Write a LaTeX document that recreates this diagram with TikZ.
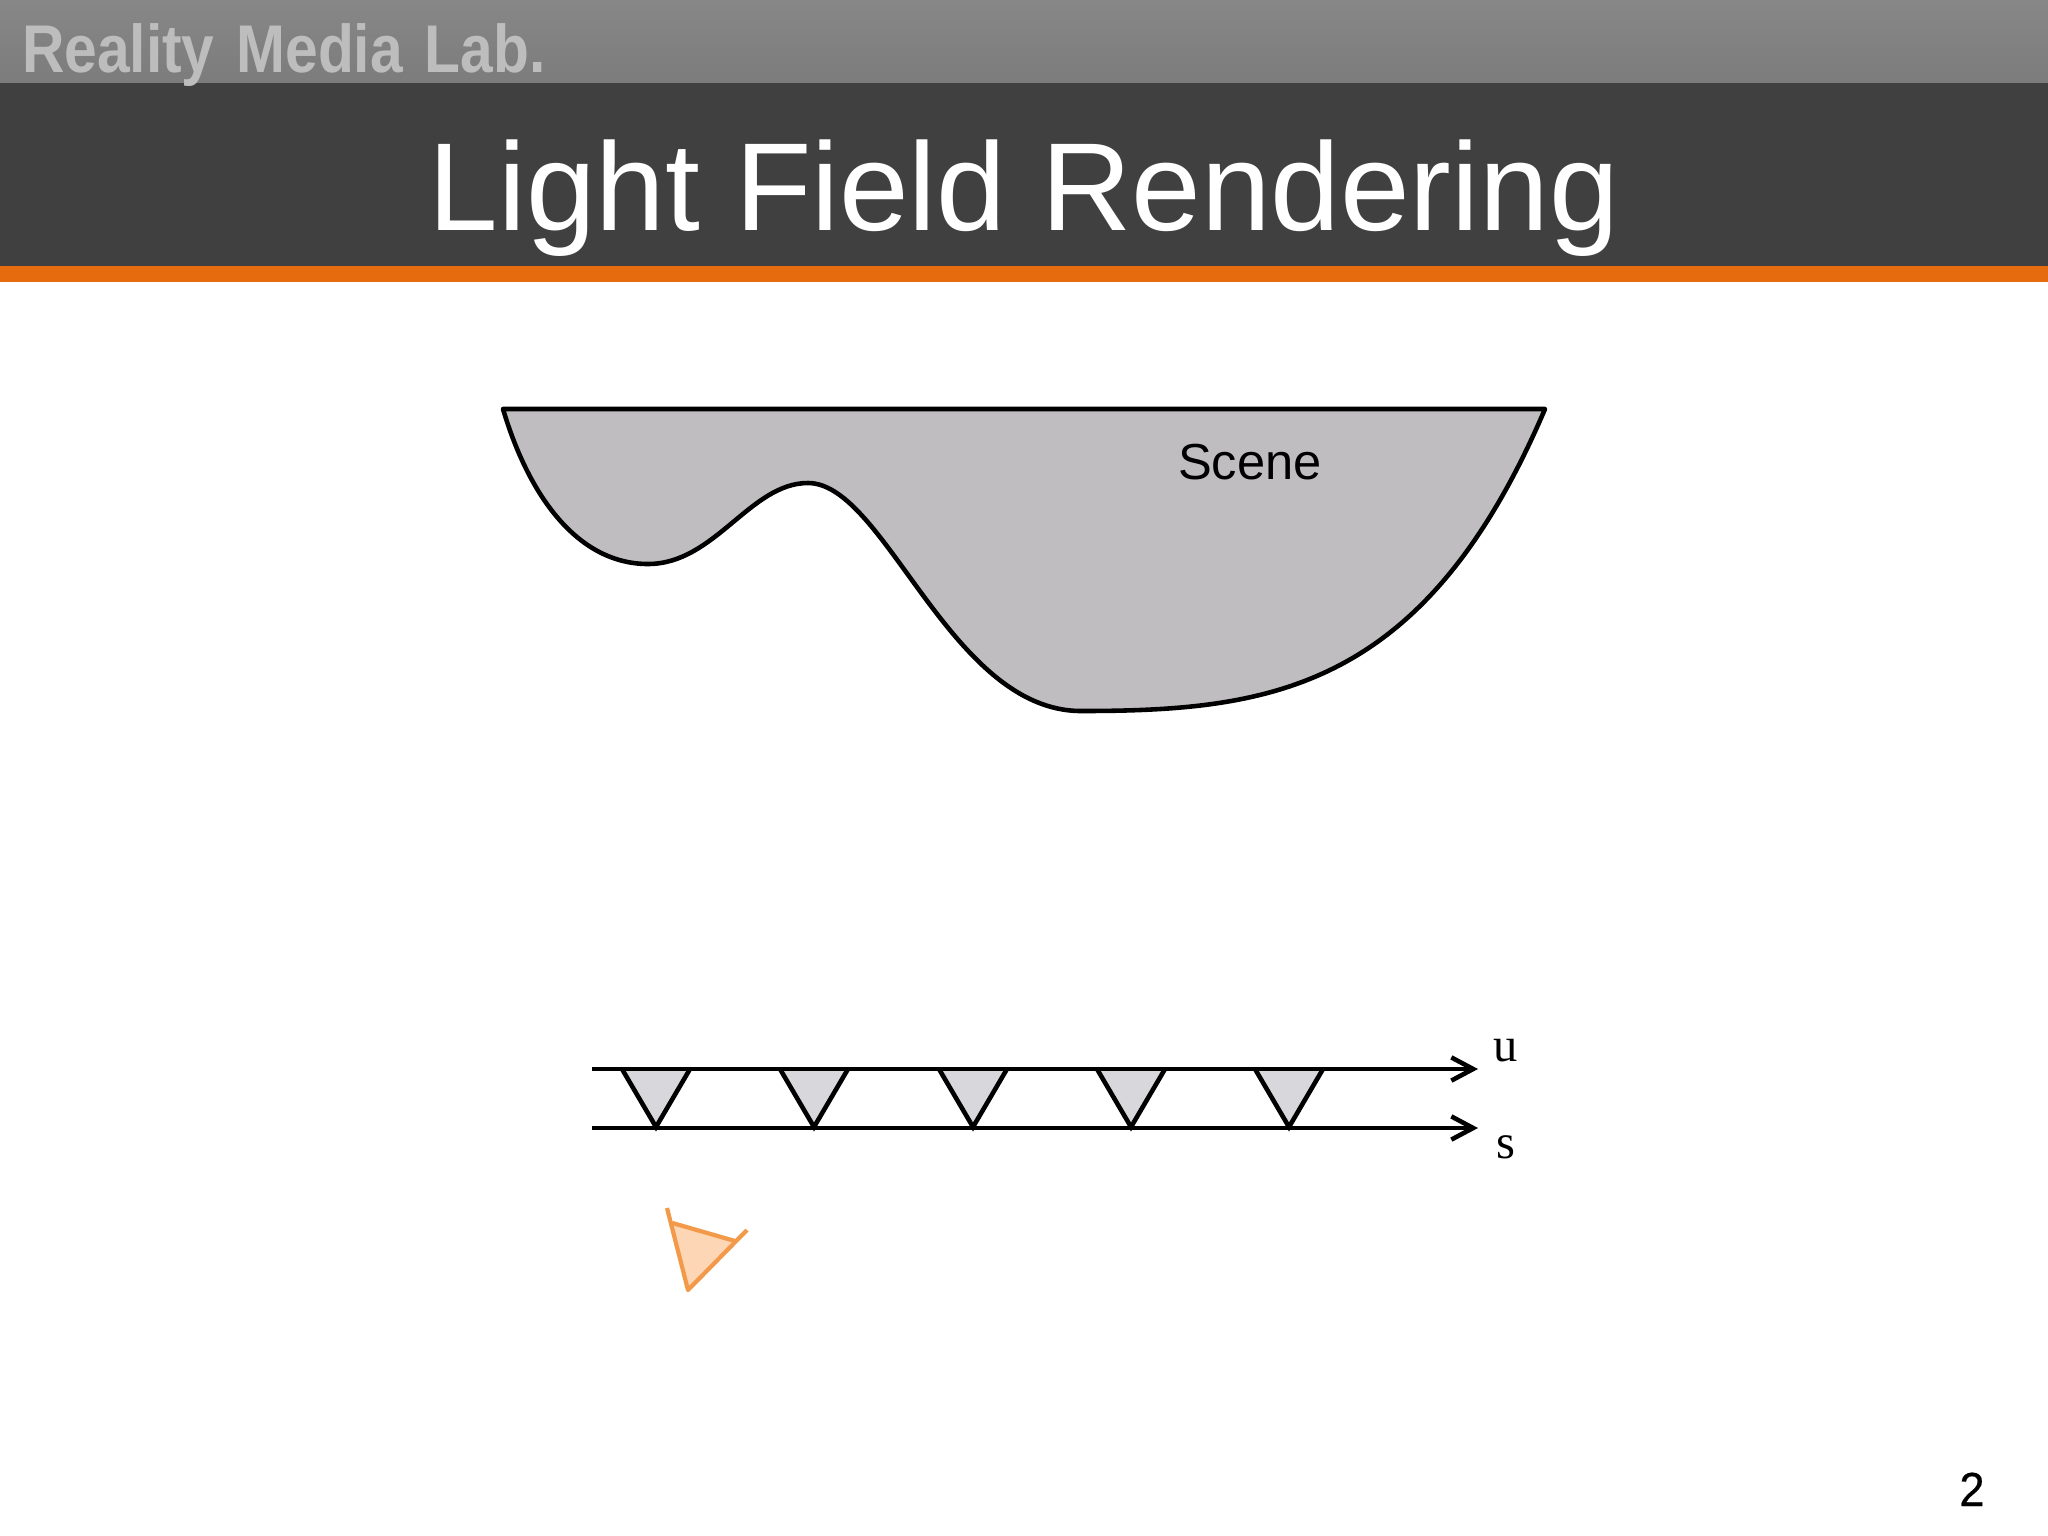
\documentclass[tikz,border=0pt]{standalone}
\usepackage{fontspec}
\setmainfont{Liberation Sans}
\newfontfamily\serifface{Liberation Serif}
\newfontfamily\pageface[FakeBold=0.5]{Liberation Sans}
\usetikzlibrary{arrows.meta}
\definecolor{bandtop}{HTML}{878787}
\definecolor{bandbot}{HTML}{7C7C7C}
\definecolor{bandlab}{HTML}{BDBDBD}
\definecolor{banddark}{HTML}{404040}
\definecolor{bandorange}{HTML}{E56B0E}
\definecolor{scenegray}{HTML}{BFBDC0}
\definecolor{camgray}{HTML}{D8D7DB}
\definecolor{vieworange}{HTML}{F29A4A}
\definecolor{viewfill}{HTML}{FDD6B5}
\tikzset{
  x=0.01cm,y=-0.01cm,
  axisline/.style={black,line width=1.3pt,-{Straight Barb[length=6.2pt,width=6.6pt,line width=1.3pt]}},
  camtri/.style={draw=black,fill=camgray,line width=1.3pt,line join=miter},
  lbl/.style={inner sep=0pt,outer sep=0pt}
}
\begin{document}
\begin{tikzpicture}
\useasboundingbox (0,0) rectangle (2048,1536);
\fill[white] (0,0) rectangle (2048,1536);
\shade[top color=bandtop,bottom color=bandbot] (0,0) rectangle (2048,83);
\fill[banddark] (0,83) rectangle (2048,266);
\fill[bandorange] (0,266) rectangle (2048,282);
\node[lbl,anchor=base west,text=bandlab,xscale=0.87,font=\fontsize{19.2pt}{22pt}\selectfont\bfseries] (lab) at (22,72) {Reality\hspace{1.8pt} Media\hspace{1.8pt} Lab.};
\node[lbl,anchor=base,text=white,font=\fontsize{35.6pt}{40pt}\selectfont] (title) at (1024,230) {Light Field Rendering};
% scene
\draw[fill=scenegray,draw=black,line width=1.3pt,line join=round] (503,409)
  .. controls (530,500) and (580,564) .. (648,564)
  .. controls (715,564) and (750,483) .. (808,483)
  .. controls (885,483) and (950,711) .. (1081,711)
  .. controls (1271,711) and (1425,690) .. (1545,409) -- cycle;
\node[lbl,anchor=base,font=\fontsize{14.4pt}{17pt}\selectfont] (scene) at (1250,479) {Scene};
% cameras
\foreach \i/\b in {a/656,b/814,c/973,d/1131,e/1289}{
  \draw[camtri] (\b-34,1069) -- (\b,1127) -- (\b+34,1069);
}
% axes
\coordinate (ustart) at (592,1069);
\coordinate (uend) at (1478,1069);
\coordinate (sstart) at (592,1128);
\coordinate (send) at (1478,1128);
\draw[axisline] (ustart) -- (uend);
\draw[axisline] (sstart) -- (send);
\node[lbl,anchor=base,font=\serifface\fontsize{13.8pt}{16pt}\selectfont] (ulab) at (1506,1061) {u};
\node[lbl,anchor=base,font=\serifface\fontsize{13.8pt}{16pt}\selectfont] (slab) at (1506,1158) {s};
% viewer
\fill[viewfill] (672.5,1223) -- (735,1241) -- (688,1290) -- cycle;
\draw[vieworange,line width=1.2pt] (672.5,1223) -- (735,1241);
\draw[vieworange,line width=1.2pt,line join=round] (667,1208) -- (688,1290) -- (747,1230);
\node[lbl,anchor=base,xscale=0.95,font=\pageface\fontsize{13.6pt}{15pt}\selectfont] (page) at (1972,1506) {2};
\end{tikzpicture}
\end{document}
